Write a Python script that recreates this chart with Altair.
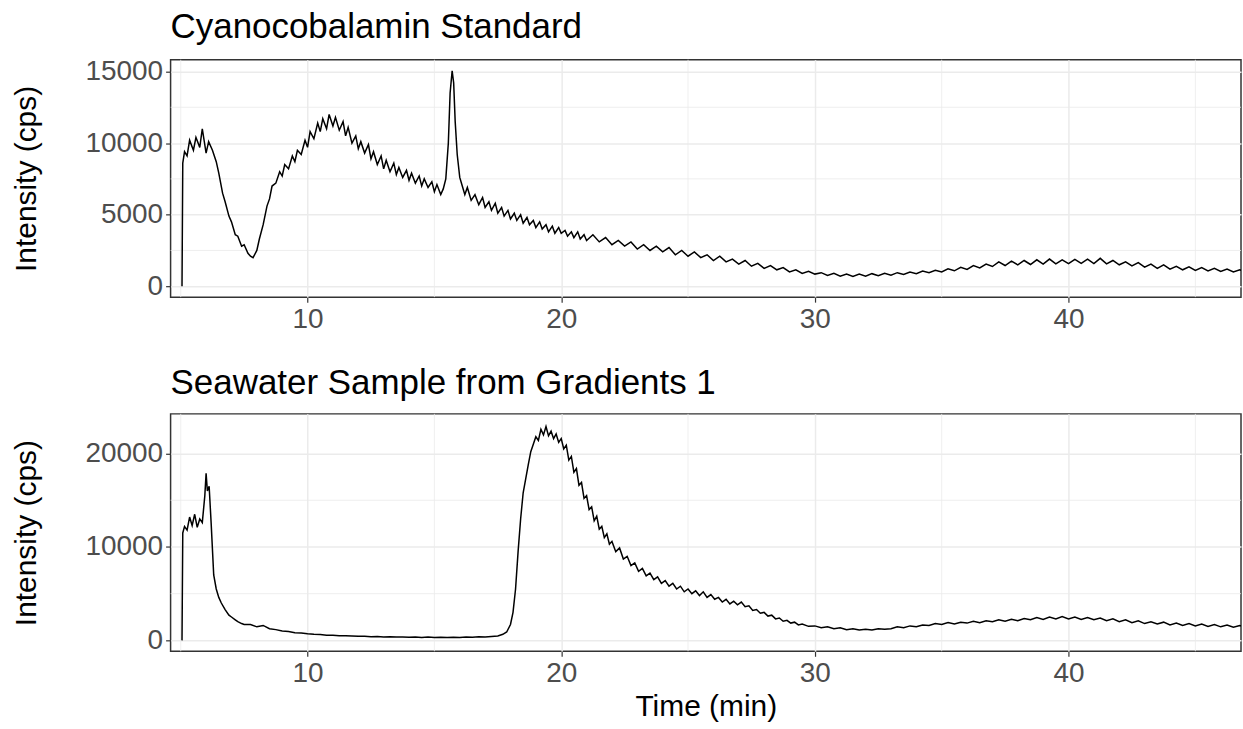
import altair as alt
import pandas as pd

# Cyanocobalamin standard trace (time min, intensity cps)
std_points = [
    (5.05, 0), (5.08, 8600), (5.15, 9400), (5.25, 9100), (5.35, 10200), (5.5, 9500),
    (5.6, 10400), (5.75, 9700), (5.85, 11000), (6.0, 9300), (6.1, 10100), (6.25, 9500),
    (6.4, 8700), (6.5, 7900), (6.65, 6500), (6.75, 5900), (6.9, 4900), (7.0, 4500),
    (7.15, 3600), (7.25, 3500), (7.4, 2800), (7.5, 2900), (7.65, 2300), (7.75, 2100),
    (7.85, 2000), (8.0, 2500), (8.1, 3300), (8.25, 4300), (8.4, 5600), (8.5, 6100),
    (8.6, 7000), (8.75, 7200), (8.9, 8000), (9.0, 7700), (9.1, 8500), (9.25, 8200),
    (9.4, 9100), (9.5, 8700), (9.6, 9500), (9.75, 9200), (9.9, 10200), (10.0, 9700),
    (10.1, 10800), (10.25, 10300), (10.4, 11400), (10.5, 10800), (10.6, 11700), (10.75, 11000),
    (10.85, 12000), (11.0, 11200), (11.1, 11800), (11.25, 10900), (11.4, 11500), (11.5, 10500),
    (11.6, 11100), (11.75, 10000), (11.9, 10500), (12.0, 9600), (12.1, 10100), (12.25, 9300),
    (12.4, 9900), (12.5, 8900), (12.6, 9400), (12.75, 8500), (12.9, 9100), (13.0, 8200),
    (13.1, 8800), (13.25, 8000), (13.4, 8600), (13.5, 7800), (13.6, 8300), (13.75, 7600),
    (13.9, 8100), (14.0, 7400), (14.1, 7900), (14.25, 7200), (14.4, 7700), (14.5, 7000),
    (14.6, 7500), (14.75, 6900), (14.9, 7300), (15.0, 6600), (15.1, 7100), (15.25, 6400),
    (15.35, 6800), (15.45, 7500), (15.55, 10000), (15.62, 13500), (15.7, 15050), (15.76, 14200),
    (15.82, 11500), (15.9, 9200), (16.0, 7600), (16.1, 7000), (16.2, 6400), (16.3, 6900),
    (16.45, 6000), (16.6, 6400), (16.75, 5700), (16.9, 6200), (17.0, 5500), (17.15, 5900),
    (17.25, 5300), (17.4, 5800), (17.5, 5100), (17.65, 5500), (17.75, 4900), (17.9, 5300),
    (18.0, 4700), (18.15, 5100), (18.25, 4600), (18.4, 5000), (18.5, 4400), (18.65, 4800),
    (18.75, 4300), (18.9, 4600), (19.0, 4100), (19.15, 4500), (19.25, 4000), (19.4, 4300),
    (19.5, 3800), (19.65, 4200), (19.75, 3700), (19.9, 4100), (20.0, 3700), (20.15, 3900),
    (20.25, 3500), (20.4, 3800), (20.5, 3400), (20.65, 3800), (20.75, 3300), (20.9, 3600),
    (21.0, 3200), (21.25, 3600), (21.5, 3100), (21.75, 3400), (22.0, 2900), (22.25, 3200),
    (22.5, 2800), (22.75, 3100), (23.0, 2600), (23.25, 2900), (23.5, 2500), (23.75, 2800),
    (24.0, 2400), (24.25, 2700), (24.5, 2200), (24.75, 2500), (25.0, 2100), (25.25, 2400),
    (25.5, 2000), (25.75, 2200), (26.0, 1800), (26.25, 2100), (26.5, 1700), (26.75, 1900),
    (27.0, 1550), (27.25, 1800), (27.5, 1400), (27.75, 1600), (28.0, 1250), (28.25, 1450),
    (28.5, 1150), (28.75, 1300), (29.0, 1000), (29.25, 1150), (29.5, 900), (29.75, 1050),
    (30.0, 850), (30.25, 950), (30.5, 750), (30.75, 900), (31.0, 700), (31.25, 850),
    (31.5, 680), (31.75, 850), (32.0, 700), (32.25, 880), (32.5, 730), (32.75, 900),
    (33.0, 780), (33.25, 950), (33.5, 820), (33.75, 1000), (34.0, 880), (34.25, 1060),
    (34.5, 950), (34.75, 1120), (35.0, 1000), (35.25, 1220), (35.5, 1080), (35.75, 1330),
    (36.0, 1180), (36.25, 1450), (36.5, 1280), (36.75, 1550), (37.0, 1380), (37.25, 1700),
    (37.5, 1450), (37.75, 1750), (38.0, 1500), (38.25, 1800), (38.5, 1520), (38.75, 1850),
    (39.0, 1550), (39.25, 1900), (39.5, 1560), (39.75, 1850), (40.0, 1580), (40.25, 1880),
    (40.5, 1600), (40.75, 1900), (41.0, 1580), (41.25, 1950), (41.5, 1560), (41.75, 1800),
    (42.0, 1500), (42.25, 1700), (42.5, 1420), (42.75, 1650), (43.0, 1330), (43.25, 1550),
    (43.5, 1250), (43.75, 1500), (44.0, 1200), (44.25, 1400), (44.5, 1150), (44.75, 1350),
    (45.0, 1100), (45.25, 1300), (45.5, 1070), (45.75, 1250), (46.0, 1030), (46.25, 1200),
    (46.5, 1000), (46.75, 1150), (46.9, 1050),
]

# Seawater sample trace (time min, intensity cps)
sw_points = [
    (5.05, 0), (5.08, 11500), (5.15, 12200), (5.25, 11800), (5.35, 13200), (5.45, 12300),
    (5.55, 13500), (5.65, 12100), (5.75, 13000), (5.85, 12600), (5.95, 15500), (6.0, 17900),
    (6.05, 16000), (6.12, 16500), (6.2, 12500), (6.3, 7000), (6.4, 5500), (6.5, 4600),
    (6.6, 4000), (6.75, 3300), (6.9, 2700), (7.0, 2500), (7.15, 2200), (7.25, 2000),
    (7.4, 1800), (7.5, 1700), (7.75, 1700), (8.0, 1450), (8.25, 1600), (8.5, 1250),
    (8.75, 1150), (9.0, 1000), (9.25, 950), (9.5, 820), (9.75, 780), (10.0, 700),
    (10.25, 650), (10.5, 620), (10.75, 560), (11.0, 550), (11.25, 500), (11.5, 490),
    (11.75, 470), (12.0, 440), (12.25, 450), (12.5, 400), (12.75, 410), (13.0, 370),
    (13.25, 390), (13.5, 350), (13.75, 370), (14.0, 330), (14.25, 360), (14.5, 320),
    (14.75, 350), (15.0, 310), (15.25, 340), (15.5, 300), (15.75, 340), (16.0, 320),
    (16.25, 360), (16.5, 340), (16.75, 380), (17.0, 370), (17.25, 420), (17.5, 480),
    (17.7, 650), (17.85, 900), (18.0, 1700), (18.1, 3000), (18.2, 5500), (18.3, 9500),
    (18.4, 13000), (18.5, 15800), (18.6, 17300), (18.7, 18800), (18.8, 20200), (18.9, 21000),
    (19.0, 21800), (19.1, 21400), (19.2, 22600), (19.3, 22000), (19.4, 22900), (19.5, 21900),
    (19.6, 22400), (19.7, 21600), (19.8, 22100), (19.9, 21200), (20.0, 21600), (20.1, 20500),
    (20.2, 20900), (20.3, 19300), (20.4, 19700), (20.5, 18000), (20.6, 18400), (20.7, 16600),
    (20.8, 16900), (20.9, 15200), (21.0, 15500), (21.1, 14000), (21.2, 14300), (21.3, 12800),
    (21.4, 13300), (21.5, 11900), (21.6, 12200), (21.7, 11000), (21.8, 11400), (21.9, 10300),
    (22.0, 10600), (22.15, 9500), (22.3, 9900), (22.45, 8700), (22.6, 9000), (22.75, 8000),
    (22.9, 8300), (23.05, 7400), (23.2, 7700), (23.35, 6900), (23.5, 7200), (23.65, 6500),
    (23.8, 6800), (23.95, 6100), (24.1, 6400), (24.25, 5800), (24.4, 6100), (24.55, 5500),
    (24.7, 5800), (24.85, 5200), (25.0, 5500), (25.15, 5000), (25.3, 5300), (25.45, 4800),
    (25.6, 5200), (25.75, 4600), (25.9, 4900), (26.05, 4400), (26.2, 4600), (26.35, 4100),
    (26.5, 4400), (26.65, 3900), (26.8, 4200), (26.95, 3800), (27.1, 4100), (27.25, 3600),
    (27.4, 3700), (27.55, 3200), (27.7, 3300), (27.85, 2900), (28.0, 3000), (28.15, 2600),
    (28.3, 2700), (28.45, 2300), (28.6, 2400), (28.75, 2050), (28.9, 2150), (29.05, 1850),
    (29.2, 1950), (29.35, 1650), (29.5, 1750), (29.75, 1500), (30.0, 1550), (30.25, 1350),
    (30.5, 1450), (30.75, 1250), (31.0, 1350), (31.25, 1150), (31.5, 1250), (31.75, 1100),
    (32.0, 1200), (32.25, 1100), (32.5, 1250), (32.75, 1200), (33.0, 1250), (33.25, 1450),
    (33.5, 1350), (33.75, 1550), (34.0, 1450), (34.25, 1650), (34.5, 1600), (34.75, 1800),
    (35.0, 1700), (35.25, 1900), (35.5, 1750), (35.75, 1950), (36.0, 1850), (36.25, 2050),
    (36.5, 1900), (36.75, 2100), (37.0, 2000), (37.25, 2200), (37.5, 2050), (37.75, 2250),
    (38.0, 2100), (38.25, 2350), (38.5, 2200), (38.75, 2450), (39.0, 2250), (39.25, 2500),
    (39.5, 2300), (39.75, 2550), (40.0, 2300), (40.25, 2500), (40.5, 2250), (40.75, 2450),
    (41.0, 2200), (41.25, 2400), (41.5, 2100), (41.75, 2300), (42.0, 2000), (42.25, 2200),
    (42.5, 1900), (42.75, 2100), (43.0, 1800), (43.25, 2000), (43.5, 1750), (43.75, 1950),
    (44.0, 1650), (44.25, 1850), (44.5, 1600), (44.75, 1800), (45.0, 1550), (45.25, 1750),
    (45.5, 1500), (45.75, 1700), (46.0, 1450), (46.25, 1650), (46.5, 1400), (46.75, 1600),
    (46.9, 1450),
]

titles = ["Cyanocobalamin Standard", "Seawater Sample from Gradients 1"]
x_ticks = [10, 20, 30, 40]
x_minor = [5, 15, 25, 35, 45]
x_domain = [4.6, 46.8]
std_y_ticks = [0, 5000, 10000, 15000]
std_y_minor = [2500, 7500, 12500]
std_y_domain = [-760, 15820]
sw_y_ticks = [0, 10000, 20000]
sw_y_minor = [5000, 15000]
sw_y_domain = [-1170, 24250]

GRID = "#EBEBEB"
FONT = "Liberation Sans"


def panel(points, title, y_ticks, y_minor, y_domain, x_title):
    df = pd.DataFrame(points, columns=["time", "intensity"])
    xs = alt.Scale(domain=x_domain, nice=False, zero=False)
    ys = alt.Scale(domain=y_domain, nice=False, zero=False)
    xax = alt.Axis(values=x_ticks, title=x_title, format="d")
    yax = alt.Axis(values=y_ticks, title="Intensity (cps)", format="d")
    vx = alt.Chart(pd.DataFrame({"time": x_minor})).mark_rule(
        color=GRID, strokeWidth=0.8
    ).encode(x=alt.X("time:Q", scale=xs, axis=xax))
    vy = alt.Chart(pd.DataFrame({"intensity": y_minor})).mark_rule(
        color=GRID, strokeWidth=0.8
    ).encode(y=alt.Y("intensity:Q", scale=ys, axis=yax))
    line = alt.Chart(df).mark_line(color="black", strokeWidth=1.5, clip=True).encode(
        x=alt.X("time:Q", scale=xs, axis=xax),
        y=alt.Y("intensity:Q", scale=ys, axis=yax),
        order="time:Q",
    )
    return alt.layer(vx, vy, line).properties(
        width=1073, height=238,
        title=alt.TitleParams(title, anchor="start", frame="group", fontSize=35, font=FONT,
                              fontWeight="normal", color="black", offset=13),
    )


top = panel(std_points, titles[0], std_y_ticks, std_y_minor, std_y_domain, None)
bottom = panel(sw_points, titles[1], sw_y_ticks, sw_y_minor, sw_y_domain, "Time (min)")

chart = alt.vconcat(top, bottom, spacing=30).properties(
    padding={"left": 10, "top": 8, "right": 0, "bottom": 0},
    background="white",
).configure_view(
    stroke="#333333", strokeWidth=1.5
).configure_axis(
    labelFont=FONT, labelFontSize=28, labelColor="#4D4D4D",
    titleFont=FONT, titleFontSize=30, titleColor="black",
    titleFontWeight="normal", tickColor="#333333", tickSize=5, tickWidth=1.2,
    domain=False, grid=True, gridColor=GRID, gridWidth=1.5, labelPadding=3,
).configure_axisY(titlePadding=44).configure_axisX(titlePadding=4)

chart.save("out.html", embed_options={"renderer": "svg", "actions": False})
